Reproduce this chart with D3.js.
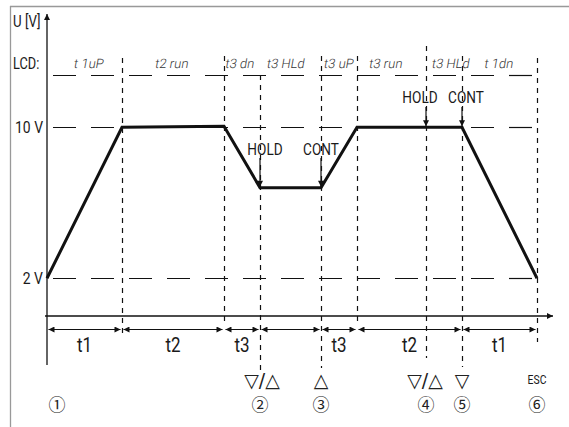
<!DOCTYPE html>
<html><head><meta charset="utf-8">
<script src="https://cdn.jsdelivr.net/npm/d3@7"></script>
<style>
body{margin:0;background:#fff;}
svg{display:block;}
</style></head>
<body>
<svg id="c" width="569" height="427"></svg>
<script>
// ---- data ----
const boundaries = [0, 15, 35.4, 42.6, 54.8, 62, 75.8, 83, 98];      // time marks (a.u.)
const voltagePoints = [[0,2],[15,10],[35.4,10.05],[42.6,6.8],[54.8,6.8],[62,10],[83,10],[98,2]];
const levelValues = [2, 10, 12.75];
const levelLabels = ["2 V", "10 V", null];
const lcdLabels = ["t 1uP","t2 run","t3 dn","t3 HLd","t3 uP","t3 run","t3 HLd","t 1dn"];
const lcdCenters = [8.4, 25, 38.6, 47.8, 58.4, 67.8, 80.8, 90.4];
const intervalStarts = [0, 15, 35.4, 42.6, 54.8, 62, 83];
const intervalEnds   = [15, 35.4, 42.6, 54.8, 62, 83, 98];
const intervalLabels = ["t1","t2","t3","","t3","t2","t1"];
const holdEvents = [[42.6,6.8,"HOLD"],[54.8,6.8,"CONT"],[75.8,10,"HOLD"],[83,10,"CONT"]];
const keyTimes = [43, 54.8, 75.6, 83, 98];
const keyLabels = ["▽/△","△","▽/△","▽","ESC"];
const stepTimes = [2, 42.6, 54.8, 75.8, 83, 98];
const stepLabels = ["①","②","③","④","⑤","⑥"];

// ---- layout ----
const svg = d3.select("#c");
const x = d3.scaleLinear().domain([0, 101.2]).range([47, 553]);
const y = d3.scaleLinear().domain([0, 16]).range([316, 14]);
const ink = "#111";
const FONT = "Roboto, 'Liberation Sans', sans-serif";

function ctext(px, py, str, size, anchor, sx){
  return svg.append("text")
    .attr("transform", `translate(${px},${py}) scale(${sx||0.8},1)`)
    .attr("dy","0.36em").attr("text-anchor", anchor||"middle")
    .attr("font-family", FONT).attr("font-weight",400)
    .attr("font-size", size).attr("fill","#1a1a1a").text(str);
}

// frame
svg.append("line").attr("x1",10.5).attr("x2",10.5).attr("y1",6).attr("y2",427).attr("stroke","#999").attr("stroke-width",1.3);
svg.append("line").attr("x1",10).attr("x2",569).attr("y1",6.5).attr("y2",6.5).attr("stroke","#999").attr("stroke-width",1.3);

const defs = svg.append("defs");
defs.append("marker").attr("id","ah").attr("viewBox","0 0 10 10").attr("refX",10).attr("refY",5)
  .attr("markerWidth",9).attr("markerHeight",6).attr("markerUnits","userSpaceOnUse").attr("orient","auto-start-reverse")
  .append("path").attr("d","M0,0L10,5L0,10z").attr("fill",ink);
defs.append("marker").attr("id","ahs").attr("viewBox","0 0 10 10").attr("refX",10).attr("refY",5)
  .attr("markerWidth",7).attr("markerHeight",6).attr("markerUnits","userSpaceOnUse").attr("orient","auto-start-reverse")
  .append("path").attr("d","M0,0L10,5L0,10z").attr("fill",ink);

// horizontal dashed levels
svg.selectAll(".lvl").data(levelValues).join("line")
  .attr("x1", x(0)).attr("x2", x(98)).attr("y1", d=>Math.round(y(d))+0.5).attr("y2", d=>Math.round(y(d))+0.5)
  .attr("stroke", ink).attr("stroke-width",1.2).attr("stroke-dasharray","23,15").attr("stroke-dashoffset",-6);

// vertical dashed guides (top / bottom layout extents)
const guideTop = [null, 58, 56, 75, 56, 56, 46, 56, 58];
const guideBot = [null, 336, 325, 370, 368, 322, 358, 367, 342];
boundaries.forEach((b,i)=>{
  if(i===0) return;
  svg.append("line").attr("x1",Math.round(x(b))+0.5).attr("x2",Math.round(x(b))+0.5)
    .attr("y1",guideTop[i]).attr("y2",guideBot[i])
    .attr("stroke",ink).attr("stroke-width",1.2).attr("stroke-dasharray","5,5");
});

// axes
svg.append("line").attr("x1",x(0)).attr("x2",x(0)).attr("y1",365).attr("y2",y(16))
  .attr("stroke",ink).attr("stroke-width",1.3).attr("marker-end","url(#ahs)");
svg.append("line").attr("x1",x(0)-2).attr("x2",x(101.2)).attr("y1",y(0)).attr("y2",y(0))
  .attr("stroke",ink).attr("stroke-width",1.3).attr("marker-end","url(#ah)");

// level labels & axis titles
levelValues.forEach((d,i)=>{ if(levelLabels[i]) ctext(43, y(d), levelLabels[i], 17, "end", 0.82); });
ctext(13, 21, "U [V]", 17, "start", 0.78);
ctext(13, 63, "LCD:", 16, "start", 0.8);

// LCD labels (seven-segment style readouts)
svg.selectAll(".lcd").data(lcdLabels).join("text")
  .attr("transform",(d,i)=>`translate(${x(lcdCenters[i])},63) skewX(-10)`)
  .attr("dy","0.36em").attr("text-anchor","middle")
  .attr("font-family",FONT).attr("font-weight",300).attr("font-size",13)
  .attr("fill","#333").text(d=>d);

// voltage curve
svg.append("path").datum(voltagePoints)
  .attr("d", d3.line().x(d=>x(d[0])).y(d=>y(d[1])))
  .attr("fill","none").attr("stroke",ink).attr("stroke-width",3).attr("stroke-linejoin","miter");

// HOLD / CONT annotations
const annOffsets = [[265,149,158],[321,149,158],[420,97,107],[466,97,107]];
holdEvents.forEach((e,i)=>{
  const [tx,ty,top] = annOffsets[i];
  ctext(tx, ty, e[2], 17, "middle", 0.8);
  svg.append("line").attr("x1",x(e[0])).attr("x2",x(e[0])).attr("y1",top).attr("y2",y(e[1])-1)
    .attr("stroke",ink).attr("stroke-width",1.2).attr("marker-end","url(#ahs)");
});

// interval dimension arrows
const arrowY = 329.5;
intervalStarts.forEach((s,i)=>{
  const e = intervalEnds[i];
  svg.append("line").attr("x1",x(s)+1.5).attr("x2",x(e)-1.5).attr("y1",arrowY).attr("y2",arrowY)
    .attr("stroke",ink).attr("stroke-width",1.2)
    .attr("marker-start","url(#ah)").attr("marker-end","url(#ah)");
  if(intervalLabels[i]) ctext((x(s)+x(e))/2, 345, intervalLabels[i], 20, "middle", 0.85);
});

// key symbols
keyLabels.forEach((d,i)=>{
  if(d==="ESC") ctext(x(keyTimes[i]), 379, d, 13, "middle", 0.8);
  else svg.append("text").attr("x",x(keyTimes[i])).attr("y",380).attr("dy","0.36em").attr("text-anchor","middle")
    .attr("font-family","'DejaVu Sans',sans-serif").attr("font-size",19).attr("fill","#222").text(d);
});

// step numbers
svg.selectAll(".step").data(stepLabels).join("text")
  .attr("x",(d,i)=>x(stepTimes[i])).attr("y",405).attr("dy","0.36em").attr("text-anchor","middle")
  .attr("font-family","'Noto Sans CJK JP','DejaVu Sans',sans-serif").attr("font-size",17).attr("fill","#222").text(d=>d);
</script>
</body></html>
